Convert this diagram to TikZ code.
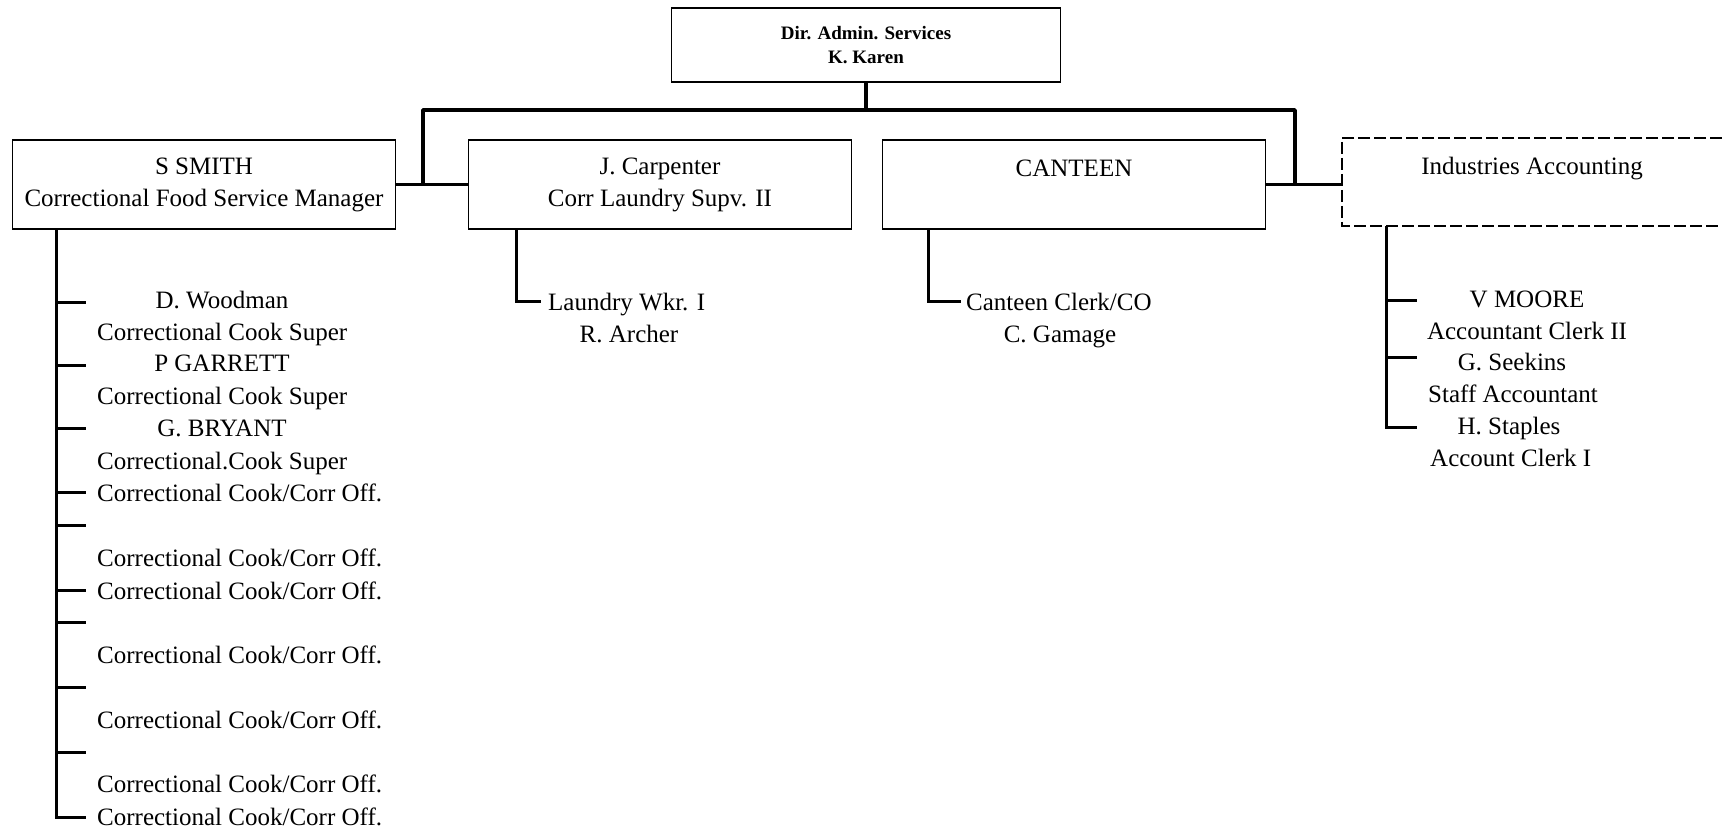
\documentclass[tikz,border=0pt]{standalone}
\usepackage{fontspec}
\setmainfont{Liberation Serif}
\usetikzlibrary{positioning,calc}
\newcommand{\cco}{Correctional Cook/Corr Off.}
\newcommand{\ccs}{Correctional Cook Super}

\begin{document}
\begin{tikzpicture}[x=1pt,y=-1pt,
 font=\fontsize{25}{32}\selectfont,
 unit/.style={draw, line width=1.8pt, minimum width=383pt, minimum height=89pt, inner sep=0pt, align=center},
 staff/.style={inner sep=0pt, text height=24pt, text depth=6pt},
 bus/.style={line width=3.5pt, line join=round},
 branch/.style={line width=3pt}]
\useasboundingbox (0,0) rectangle (1722,828);
\node[draw, line width=1.8pt, minimum width=389pt, minimum height=74pt, align=center,
 font=\fontsize{19}{24}\selectfont\bfseries] (dir) at (866,45) {Dir. Admin. Services\\K. Karen};
\node[unit] (smith) at (204,184.5) {S SMITH\\Correctional Food Service Manager};
\node[unit] (carp) at (660,184.5) {J. Carpenter\\Corr Laundry Supv. II};
\node[unit] (cant) at (1074,184.5) {CANTEEN\\\mbox{}};
\node[minimum width=380pt, minimum height=87pt, inner sep=0pt, align=center] (acct) at (1532,182) {Industries Accounting\\\mbox{}};
% open on the right, dashed
\draw[line width=1.8pt, dash pattern=on 12pt off 4pt] (acct.north east) -- (acct.north west) -- (acct.south west) -- (acct.south east);

% top bus
\coordinate (busl) at (423,110);
\coordinate (busr) at (1295,110);
\draw[bus] (dir.south) -- (dir.south |- busl);
\draw[bus] (busl |- smith.east) -- (busl) -- (busr) -- (busr |- cant.east);
\draw[line width=2.5pt] (smith.east) -- (carp.west);
\draw[line width=2.5pt] (cant.east) -- (cant.east -| acct.west);

% food service
\coordinate (sroot) at ([xshift=45pt]smith.south west);
\draw[branch] (sroot) |- (86,817);
\foreach \y in {302,365,428,492,525,590,622,687,752}
 \draw[branch] (sroot |- 0,\y) -- (86,\y);
\foreach \y/\n [count=\i] in {299/D. Woodman, 362/P GARRETT, 427/G. BRYANT}
 \node[staff] (cook\i) at (222,\y) {\n};
\foreach \y/\t [count=\i] in {331/\ccs, 395/\ccs, 460/Correctional.Cook Super, 492/\cco,
 557/\cco, 590/\cco, 654/\cco, 719/\cco, 783/\cco, 816/\cco}
 \node[staff, anchor=west] (post\i) at (97,\y) {\t};

% laundry
\coordinate (croot) at ([xshift=49pt]carp.south west);
\node[staff, anchor=west] (wkr) at (548,301) {Laundry Wkr. I};
\node[staff] (archer) at (629,333) {R. Archer};
\draw[branch, shorten >=7pt] (croot) |- (wkr.west);

% canteen
\coordinate (kroot) at ([xshift=47pt]cant.south west);
\node[staff, anchor=west] (clerk) at (966,301) {Canteen Clerk/CO};
\node[staff] (gamage) at (1060,333) {C. Gamage};
\draw[branch, shorten >=5pt] (kroot) |- (clerk.west);

% accounting
\coordinate (aroot) at ([xshift=45pt]acct.south west);
\draw[branch] (aroot) |- (1417,427);
\foreach \y in {300,357}
 \draw[branch] (aroot |- 0,\y) -- (1417,\y);
\node[staff] (moore) at (1527,298) {V MOORE};
\node[staff] (acl2) at (1527,330) {Accountant Clerk II};
\node[staff] (seekins) at (1512,361) {G. Seekins};
\node[staff, anchor=west] (staffacc) at (1428,393) {Staff Accountant};
\node[staff] (staples) at (1509,425) {H. Staples};
\node[staff, anchor=west] (acl1) at (1430,457) {Account Clerk I};
\end{tikzpicture}
\end{document}
